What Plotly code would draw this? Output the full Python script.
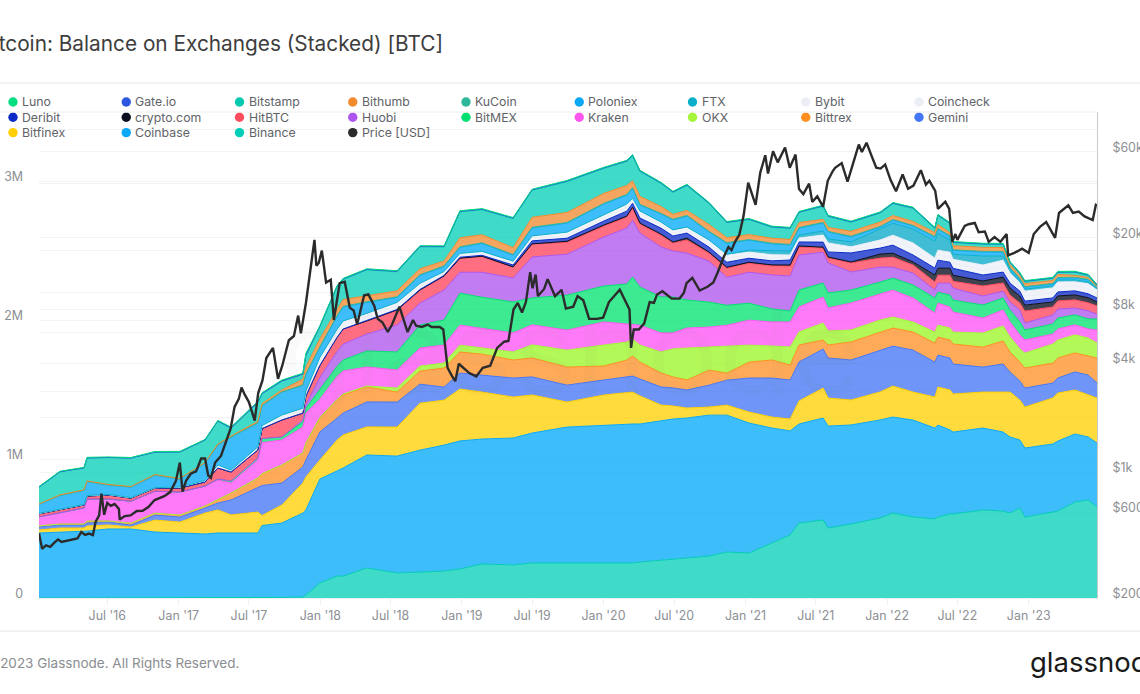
import plotly.graph_objects as go

dates = ["2016-01-07","2016-03-01","2016-05-02","2016-05-10","2016-07-03","2016-08-31","2016-11-01","2017-01-04","2017-03-10","2017-04-12","2017-05-16","2017-07-24","2017-08-04","2017-09-24","2017-11-17","2017-11-25","2017-12-31","2018-02-13","2018-03-01","2018-05-01","2018-07-18","2018-09-15","2018-11-16","2018-12-27","2019-02-22","2019-05-13","2019-07-01","2019-09-29","2020-01-02","2020-03-01","2020-03-16","2020-04-04","2020-05-28","2020-06-28","2020-08-03","2020-09-29","2020-11-14","2021-01-10","2021-03-10","2021-04-26","2021-05-19","2021-07-20","2021-08-02","2021-09-30","2021-12-14","2022-01-16","2022-03-09","2022-05-04","2022-05-12","2022-06-12","2022-06-20","2022-09-05","2022-10-27","2022-11-14","2022-12-09","2022-12-22","2023-03-04","2023-03-17","2023-04-30","2023-06-03","2023-06-26"]

# balances, thousand BTC
binance = [0,0,0,0,0,0,0,0,0,0,0,0,4,4,7,22,108,158,158,216,180,187,194,209,245,238,252,252,252,252,252,259,274,281,288,302,331,324,396,454,540,562,504,533,576,612,583,569,583,605,605,634,626,612,648,583,619,626,691,706,655]
coinbase = [468,475,482,482,497,497,475,468,461,468,468,468,518,536,605,612,749,756,778,814,842,878,907,922,900,914,936,979,994,1001,1001,994,1001,1008,1008,1015,986,936,828,749,713,734,734,713,706,691,698,655,662,605,590,590,569,547,490,497,490,504,490,454,461]
bitfinex = [22,29,22,36,29,14,86,79,151,166,130,151,72,130,216,238,137,223,238,202,209,338,324,374,338,295,274,180,216,223,230,202,115,94,72,58,72,79,79,86,166,216,202,180,202,223,202,223,274,288,274,259,288,324,288,295,331,346,317,302,324]
gemini = [22,22,22,22,22,14,36,36,36,50,108,173,216,158,115,122,202,158,158,180,180,137,94,115,122,137,130,122,108,115,115,122,130,130,130,158,180,245,281,281,281,281,288,288,302,288,302,252,230,230,216,180,202,144,137,137,108,108,130,144,108]
bittrex = [7,7,7,14,7,14,14,14,14,22,50,72,86,130,101,122,101,130,130,108,72,94,137,151,151,130,137,130,101,122,144,122,101,79,72,108,50,115,130,108,122,65,94,130,130,130,130,137,130,130,144,144,166,144,137,144,144,144,137,137,180]
okx = [0,0,0,0,0,0,0,0,0,0,0,0,0,0,0,0,4,4,7,7,29,36,36,50,43,58,94,122,151,130,122,122,151,202,230,166,194,122,101,130,94,122,101,86,86,79,72,79,86,86,86,101,108,108,94,108,137,130,130,130,108]
kraken = [65,79,115,158,158,158,158,166,144,144,72,130,223,180,187,216,130,166,166,137,130,130,130,144,144,137,144,144,166,130,101,144,137,115,144,144,151,180,173,180,180,187,166,194,187,194,173,137,158,151,144,108,115,108,101,94,72,79,72,65,94]
bitmex = [0,0,0,0,0,0,0,0,0,7,14,14,29,22,36,36,72,72,79,115,130,166,180,230,223,223,194,252,259,288,346,274,259,259,202,180,144,122,94,79,122,101,108,94,86,86,94,108,79,86,86,94,86,86,94,72,72,79,72,72,79]
huobi = [0,0,0,0,0,0,0,0,0,0,0,0,0,0,14,22,86,108,115,122,194,158,216,151,180,173,295,295,353,403,410,389,360,331,338,295,202,223,245,252,252,223,216,130,108,79,86,58,65,86,86,65,50,58,86,50,65,65,50,58,36]
hitbtc = [22,22,22,22,29,22,22,29,29,79,65,58,72,122,50,65,86,101,108,94,108,94,101,101,115,79,94,86,79,79,86,65,86,58,94,58,65,65,65,72,58,29,36,65,65,72,58,58,58,58,50,72,58,50,50,86,58,58,58,58,58]
crypto_com = [0,0,0,0,0,0,0,0,0,0,0,0,0,0,0,0,0,0,0,0,0,0,0,0,0,0,0,7,7,7,7,7,7,7,14,7,7,7,7,7,7,7,7,7,29,29,22,50,50,50,43,36,43,50,50,43,36,36,36,36,29]
deribit = [0,0,0,0,0,0,0,0,0,0,0,0,0,0,0,0,0,0,0,4,4,4,4,7,7,14,22,22,29,36,29,36,43,43,36,36,36,29,29,36,29,36,36,65,43,58,50,50,58,43,50,43,36,36,36,29,29,29,29,29,29]
coincheck = [4,4,4,4,4,4,4,7,11,22,14,22,22,22,22,22,36,36,36,29,29,22,14,14,14,14,22,22,22,29,22,29,22,22,22,29,29,22,22,22,14,29,36,22,29,36,43,36,36,36,36,36,43,36,29,36,36,36,36,36,29]
bybit = [0,0,0,0,0,0,0,0,0,0,0,0,0,14,14,14,22,22,22,22,22,22,14,14,14,14,14,22,22,22,14,22,22,22,22,22,22,22,22,14,14,22,29,22,29,36,43,36,36,36,29,36,43,36,29,36,36,36,29,36,29]
ftx = [0,0,0,0,0,0,0,0,0,0,0,0,0,0,0,0,0,0,0,0,0,0,0,0,0,0,0,0,0,0,0,0,0,0,0,0,7,14,29,29,22,29,29,36,79,86,101,122,122,86,36,65,29,22,14,14,14,14,14,14,7]
poloniex = [65,101,101,101,68,76,90,58,126,144,238,173,144,166,166,122,72,94,101,79,36,58,36,43,58,43,58,65,79,65,72,43,58,72,79,58,79,72,50,43,50,58,50,36,14,22,22,29,29,29,29,29,29,14,14,14,14,14,14,14,7]
kucoin = [0,0,0,0,0,0,0,0,0,0,0,0,0,0,0,0,4,4,4,4,4,4,4,4,4,4,4,4,4,4,4,4,4,4,4,4,4,4,4,4,4,4,4,4,4,4,4,4,4,4,4,4,4,4,4,4,4,4,4,4,4]
bithumb = [2,4,4,4,4,4,4,4,4,7,7,11,14,14,43,50,58,43,50,43,43,43,36,65,58,50,72,72,72,65,50,58,50,36,36,50,36,36,36,36,36,22,29,36,32,29,29,29,29,22,29,29,29,22,22,22,22,22,14,14,7]
bitstamp = [122,166,158,166,194,205,162,191,162,166,58,137,72,65,36,86,86,166,144,187,137,158,101,187,180,209,194,223,180,173,180,180,166,158,180,151,108,108,79,79,72,94,79,65,65,86,94,29,65,65,22,22,22,14,14,14,14,14,22,14,7]
gate_io = [0,0,0,0,0,0,0,0,0,0,0,0,0,0,0,0,4,4,4,4,4,4,4,4,4,4,4,4,4,4,4,4,4,4,4,4,4,4,4,4,4,4,4,4,4,4,4,4,4,4,4,4,4,4,4,4,4,4,4,4,4]
luno = [4,4,4,4,4,4,4,4,4,4,7,7,7,7,7,14,4,4,4,4,4,4,4,4,4,4,4,4,4,4,4,4,4,4,4,4,4,4,4,4,4,4,4,4,4,4,4,4,4,4,4,4,4,4,4,4,4,4,4,4,4]

price_dates = ["2016-01-07","2016-01-15","2016-01-25","2016-02-05","2016-02-15","2016-02-25","2016-03-05","2016-03-15","2016-03-25","2016-04-05","2016-04-15","2016-04-25","2016-05-05","2016-05-15","2016-05-25","2016-06-01","2016-06-10","2016-06-16","2016-06-23","2016-07-01","2016-07-10","2016-07-20","2016-07-31","2016-08-02","2016-08-15","2016-08-30","2016-09-15","2016-09-30","2016-10-15","2016-10-31","2016-11-10","2016-11-25","2016-12-10","2016-12-25","2017-01-04","2017-01-11","2017-01-20","2017-02-01","2017-02-15","2017-02-28","2017-03-10","2017-03-18","2017-03-25","2017-04-05","2017-04-20","2017-05-05","2017-05-15","2017-05-25","2017-06-05","2017-06-12","2017-06-20","2017-07-01","2017-07-16","2017-07-25","2017-08-05","2017-08-15","2017-09-01","2017-09-14","2017-09-25","2017-10-12","2017-10-25","2017-11-05","2017-11-12","2017-11-25","2017-12-07","2017-12-17","2017-12-22","2017-12-28","2018-01-05","2018-01-16","2018-01-28","2018-02-05","2018-02-20","2018-03-05","2018-03-18","2018-03-28","2018-04-06","2018-04-24","2018-05-05","2018-05-20","2018-05-29","2018-06-10","2018-06-24","2018-07-05","2018-07-24","2018-08-05","2018-08-14","2018-08-28","2018-09-05","2018-09-20","2018-10-05","2018-10-15","2018-11-05","2018-11-14","2018-11-20","2018-11-25","2018-12-07","2018-12-15","2018-12-24","2019-01-05","2019-01-20","2019-02-07","2019-02-24","2019-03-15","2019-04-02","2019-04-20","2019-05-01","2019-05-14","2019-05-25","2019-06-05","2019-06-15","2019-06-26","2019-07-02","2019-07-10","2019-07-16","2019-08-01","2019-08-10","2019-08-29","2019-09-15","2019-09-26","2019-10-15","2019-10-26","2019-11-10","2019-11-25","2019-12-15","2019-12-31","2020-01-15","2020-02-12","2020-02-28","2020-03-08","2020-03-12","2020-03-19","2020-04-01","2020-04-15","2020-04-29","2020-05-10","2020-05-18","2020-06-01","2020-06-25","2020-07-15","2020-07-26","2020-08-02","2020-08-17","2020-09-05","2020-09-25","2020-10-10","2020-10-21","2020-11-05","2020-11-18","2020-11-26","2020-12-05","2020-12-16","2020-12-27","2021-01-08","2021-01-27","2021-02-08","2021-02-21","2021-02-28","2021-03-13","2021-03-25","2021-04-13","2021-04-25","2021-05-10","2021-05-19","2021-05-30","2021-06-14","2021-06-22","2021-07-05","2021-07-20","2021-08-01","2021-08-14","2021-08-20","2021-09-06","2021-09-21","2021-10-05","2021-10-20","2021-10-28","2021-11-09","2021-11-20","2021-12-04","2021-12-15","2021-12-27","2022-01-10","2022-01-24","2022-02-10","2022-02-24","2022-03-10","2022-03-29","2022-04-11","2022-04-20","2022-05-05","2022-05-12","2022-05-31","2022-06-10","2022-06-18","2022-06-26","2022-07-01","2022-07-20","2022-07-30","2022-08-15","2022-08-25","2022-09-10","2022-09-20","2022-10-05","2022-10-20","2022-11-05","2022-11-09","2022-11-25","2022-12-15","2023-01-01","2023-01-14","2023-01-30","2023-02-15","2023-03-10","2023-03-20","2023-04-13","2023-04-25","2023-05-10","2023-05-25","2023-06-15","2023-06-23","2023-06-26"]
price = [458,375,392,385,405,423,410,415,417,422,428,465,448,456,447,530,575,760,580,675,650,665,625,545,570,575,608,610,640,700,715,735,775,895,1130,780,895,980,1010,1190,1190,960,930,1130,1230,1530,1750,2300,2550,2950,2700,2450,1930,2750,3230,4300,4900,3300,3900,5400,5700,7400,5900,8700,14000,19500,14000,14500,17000,11300,11700,7000,11200,11400,8200,7900,6600,9600,9700,8400,7100,6800,6000,6600,8300,7000,6000,7000,6500,6400,6600,6400,6400,6200,4500,3800,3400,3200,4000,3800,3550,3400,3800,3900,4900,5300,5350,8000,8700,7700,8800,12900,10500,12500,9500,10400,11800,9500,10300,8100,8300,9500,9000,7100,7100,7200,8800,10300,8700,8000,4900,6200,6200,6700,8800,8700,9700,10100,9200,9200,9900,11200,12000,10200,10700,11300,12800,15500,17800,17100,19000,20800,26500,40500,30500,46000,57500,45500,60500,52500,63500,49000,58000,37300,35000,40000,31700,34000,29800,41500,47000,49000,52000,41000,51500,66000,60000,67500,58500,49000,48500,51000,41900,36300,45000,37500,39000,47500,39500,41500,36500,29000,31800,29000,19000,21000,19500,23300,23800,24200,21500,21700,19000,20200,19000,21000,16000,16500,17400,16500,21000,23000,24500,20000,27500,30300,27500,28000,26300,25100,30500,30200]

# stack order, bottom first: name, values, line colour, fill colour
stack = [
    ("Binance", binance, "#00CDB5", "rgba(0,207,182,0.75)"),
    ("Coinbase", coinbase, "#0AA8F5", "rgba(0,170,248,0.76)"),
    ("Bitfinex", bitfinex, "#FFCF00", "rgba(255,208,0,0.76)"),
    ("Gemini", gemini, "#4477F5", "rgba(60,112,244,0.74)"),
    ("Bittrex", bittrex, "#FF8F1F", "rgba(255,140,30,0.74)"),
    ("OKX", okx, "#A5F53A", "rgba(150,245,30,0.74)"),
    ("Kraken", kraken, "#FF55F0", "rgba(255,70,245,0.72)"),
    ("BitMEX", bitmex, "#00E070", "rgba(0,226,110,0.76)"),
    ("Huobi", huobi, "#AD55EE", "rgba(172,78,238,0.74)"),
    ("HitBTC", hitbtc, "#FF4D5E", "rgba(255,60,85,0.74)"),
    ("crypto.com", crypto_com, "#0A1020", "rgba(8,14,30,0.78)"),
    ("Deribit", deribit, "#0A2BC7", "rgba(10,40,200,0.76)"),
    ("Coincheck", coincheck, "#ECEEF5", "rgba(236,240,247,0.8)"),
    ("Bybit", bybit, "#ECEEF5", "rgba(236,240,247,0.8)"),
    ("FTX", ftx, "#0BAFC9", "rgba(5,170,200,0.76)"),
    ("Poloniex", poloniex, "#0AA8F5", "rgba(0,170,248,0.76)"),
    ("KuCoin", kucoin, "#2EB899", "rgba(40,180,150,0.76)"),
    ("Bithumb", bithumb, "#F28A2E", "rgba(240,135,40,0.74)"),
    ("Bitstamp", bitstamp, "#00C9B0", "rgba(0,207,182,0.75)"),
    ("Gate.io", gate_io, "#2D55E0", "rgba(45,85,224,0.76)"),
    ("Luno", luno, "#00DE81", "rgba(0,222,129,0.76)"),
]

legend_rows = [
    [("Luno", "#00DE81"), ("Gate.io", "#2D55E0"), ("Bitstamp", "#00C9B0"), ("Bithumb", "#F28A2E"), ("KuCoin", "#2EB899"), ("Poloniex", "#0AA8F5"), ("FTX", "#0BAFC9"), ("Bybit", "#ECEEF5"), ("Coincheck", "#ECEEF5")],
    [("Deribit", "#0A2BC7"), ("crypto.com", "#0A1020"), ("HitBTC", "#FF4D5E"), ("Huobi", "#AD55EE"), ("BitMEX", "#00E070"), ("Kraken", "#FF55F0"), ("OKX", "#A5F53A"), ("Bittrex", "#FF8F1F"), ("Gemini", "#4477F5")],
    [("Bitfinex", "#FFCF00"), ("Coinbase", "#0AA8F5"), ("Binance", "#00CDB5"), ("Price [USD]", "#2B2B2B")],
]

W, H = 1140, 694
L, R, T, B = 39, 1097, 112, 598
def px(x): return (x - L) / (R - L)
def py(y): return (B - y) / (B - T)

GRID = "#f3f3f3"
TXT = "#8c8f94"
FONT = "Inter"
TICK = 12.4

fig = go.Figure()
for name, vals, line, fill in stack:
    fig.add_trace(go.Scatter(
        x=dates, y=[v * 1000 for v in vals], name=name, mode="lines",
        stackgroup="one", line=dict(color=line, width=1), fillcolor=fill,
        showlegend=False, hoverinfo="skip"))
fig.add_trace(go.Scatter(
    x=price_dates, y=price, name="Price [USD]", mode="lines", yaxis="y2",
    line=dict(color="#2B2B2B", width=2.4), showlegend=False))

shapes = []
annotations = []
for r, row in enumerate(legend_rows):
    for c, (name, color) in enumerate(row):
        cx = 13 + 113.25 * c
        cy = 102 + 15.3 * r
        shapes.append(dict(type="circle", xref="paper", yref="paper", xsizemode="pixel", ysizemode="pixel",
                           xanchor=px(cx), yanchor=py(cy), x0=-4.7, x1=4.7, y0=-4.7, y1=4.7,
                           fillcolor=color, line=dict(width=0)))
        annotations.append(dict(text=name, xref="paper", yref="paper", x=px(cx + 7), y=py(cy),
                                xanchor="left", yanchor="middle", showarrow=False,
                                font=dict(family=FONT, size=12.3, color="#5f6368")))

for y in (83, 631):
    shapes.append(dict(type="line", xref="paper", yref="paper", x0=px(0), x1=px(W), y0=py(y), y1=py(y),
                       line=dict(color="#e6e6e6", width=1)))
shapes.append(dict(type="line", xref="paper", yref="paper", x0=px(0), x1=px(R), y0=py(112), y1=py(112),
                   line=dict(color="#eeeeee", width=1)))

annotations += [
    dict(text="Bitcoin: Balance on Exchanges (Stacked) [BTC]", xref="paper", yref="paper", x=px(-22), y=py(44),
         xanchor="left", yanchor="middle", showarrow=False, font=dict(family=FONT, size=20.8, color="#3d3d3d")),
    dict(text="© 2023 Glassnode. All Rights Reserved.", xref="paper", yref="paper", x=px(-18), y=py(663),
         xanchor="left", yanchor="middle", showarrow=False, font=dict(family=FONT, size=13.5, color="#8a8d91")),
    dict(text="glassnode", xref="paper", yref="paper", x=px(1028), y=py(662),
         xanchor="left", yanchor="middle", showarrow=False, font=dict(family=FONT, size=27.5, color="#1a1a1a")),
    dict(text="glassnode", xref="paper", yref="paper", x=px(570), y=py(350),
         xanchor="center", yanchor="middle", showarrow=False, font=dict(family=FONT, size=120, color="rgba(120,120,120,0.04)")),
]

fig.update_layout(
    width=W, height=H, margin=dict(l=L, r=W - R, t=T, b=H - B, pad=0, autoexpand=False),
    paper_bgcolor="white", plot_bgcolor="white", showlegend=False,
    font=dict(family=FONT, size=TICK, color=TXT),
    xaxis=dict(type="date", range=["2016-01-07", "2023-06-26"], dtick="M6", tick0="2016-01-01",
               tickformat="%b '%y", showgrid=False, ticks="outside", ticklen=6, tickcolor="#eeeeee",
               showline=True, linecolor="#eeeeee", tickfont=dict(family=FONT, size=TICK, color=TXT), zeroline=False,
               automargin=False),
    yaxis=dict(range=[0, 3500000], tickvals=[0, 1000000, 2000000, 3000000], ticktext=["0", "1M", "2M", "3M"],
               gridcolor=GRID, ticklabelposition="outside top", ticklabelstandoff=15, ticklabelshift=4, zeroline=False,
               showline=False, tickfont=dict(family=FONT, size=TICK, color=TXT), automargin=False),
    yaxis2=dict(overlaying="y", side="right", type="log", range=[2.30103, 5],
                tickvals=[200, 600, 1000, 2000, 2800, 4000, 6000, 8000, 10000, 17000, 20000, 40000, 60000, 80000, 100000],
                ticktext=["$200", "$600", "$1k", "", "", "$4k", "", "$8k", "", "", "$20k", "", "$60k", "", ""],
                gridcolor=GRID, ticklabelposition="outside top", ticklabelstandoff=12, ticklabelshift=4, zeroline=False,
                showline=True, linecolor="#c9c9c9", tickfont=dict(family=FONT, size=TICK, color=TXT), automargin=False),
    shapes=shapes, annotations=annotations,
)

fig.write_html("out.html", config={"displayModeBar": False},
               post_script="document.body.style.margin='0';document.body.style.overflow='hidden';")
